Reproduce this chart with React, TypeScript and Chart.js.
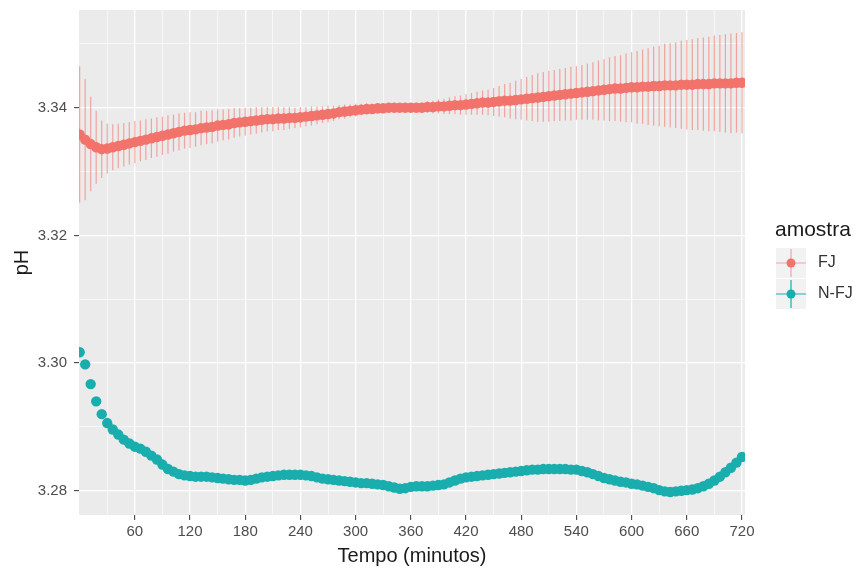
import React, { useEffect, useRef } from "react";
import { Chart, registerables } from "chart.js";

Chart.register(...registerables);

const TIME = [
  0, 6, 12, 18, 24, 30, 36, 42, 48, 54,
  60, 66, 72, 78, 84, 90, 96, 102, 108, 114,
  120, 126, 132, 138, 144, 150, 156, 162, 168, 174,
  180, 186, 192, 198, 204, 210, 216, 222, 228, 234,
  240, 246, 252, 258, 264, 270, 276, 282, 288, 294,
  300, 306, 312, 318, 324, 330, 336, 342, 348, 354,
  360, 366, 372, 378, 384, 390, 396, 402, 408, 414,
  420, 426, 432, 438, 444, 450, 456, 462, 468, 474,
  480, 486, 492, 498, 504, 510, 516, 522, 528, 534,
  540, 546, 552, 558, 564, 570, 576, 582, 588, 594,
  600, 606, 612, 618, 624, 630, 636, 642, 648, 654,
  660, 666, 672, 678, 684, 690, 696, 702, 708, 714,
  720,
];

const FJ_MEAN = [
  3.3358, 3.3350, 3.3343, 3.3338, 3.3335, 3.3336, 3.3338, 3.3340, 3.3342, 3.3344,
  3.3346, 3.3348, 3.3350, 3.3352, 3.3354, 3.3356, 3.3358, 3.3360, 3.3362, 3.3364,
  3.3365, 3.3366, 3.3368, 3.3369, 3.3370, 3.3372, 3.3373, 3.3374, 3.3376, 3.3377,
  3.3378, 3.3379, 3.3380, 3.3381, 3.3382, 3.3382, 3.3383, 3.3383, 3.3384, 3.3384,
  3.3385, 3.3386, 3.3387, 3.3388, 3.3389, 3.3390, 3.3391, 3.3393, 3.3394, 3.3395,
  3.3396, 3.3397, 3.3398, 3.3398, 3.3399, 3.3399, 3.3400, 3.3400, 3.3400, 3.3400,
  3.3400, 3.3400, 3.3400, 3.3401, 3.3401, 3.3402, 3.3402, 3.3403, 3.3404, 3.3404,
  3.3405, 3.3406, 3.3407, 3.3408, 3.3408, 3.3409, 3.3410, 3.3411, 3.3411, 3.3412,
  3.3413, 3.3414, 3.3415, 3.3416, 3.3417, 3.3418, 3.3419, 3.3420, 3.3421, 3.3422,
  3.3423, 3.3424, 3.3425, 3.3426, 3.3427, 3.3428, 3.3429, 3.3430, 3.3430, 3.3431,
  3.3432, 3.3432, 3.3433, 3.3433, 3.3434, 3.3434, 3.3435, 3.3435, 3.3435, 3.3436,
  3.3436, 3.3436, 3.3437, 3.3437, 3.3437, 3.3438, 3.3438, 3.3438, 3.3438, 3.3439,
  3.3439,
];

const FJ_ERR = [
  0.0107, 0.0095, 0.0074, 0.0057, 0.0045, 0.0039, 0.0036, 0.0035, 0.0034, 0.0033,
  0.0033, 0.0032, 0.0032, 0.0031, 0.0031, 0.0030, 0.0030, 0.0029, 0.0029, 0.0028,
  0.0028, 0.0027, 0.0027, 0.0026, 0.0026, 0.0025, 0.0024, 0.0024, 0.0023, 0.0022,
  0.0022, 0.0021, 0.0021, 0.0020, 0.0019, 0.0019, 0.0018, 0.0018, 0.0017, 0.0016,
  0.0016, 0.0015, 0.0015, 0.0014, 0.0013, 0.0013, 0.0012, 0.0011, 0.0011, 0.0010,
  0.0010, 0.0009, 0.0009, 0.0008, 0.0008, 0.0007, 0.0007, 0.0007, 0.0007, 0.0007,
  0.0007, 0.0008, 0.0008, 0.0009, 0.0010, 0.0011, 0.0012, 0.0013, 0.0014, 0.0015,
  0.0016, 0.0017, 0.0018, 0.0019, 0.0020, 0.0022, 0.0024, 0.0026, 0.0028, 0.0030,
  0.0032, 0.0034, 0.0036, 0.0038, 0.0039, 0.0040, 0.0040, 0.0041, 0.0041, 0.0042,
  0.0042, 0.0043, 0.0044, 0.0045, 0.0047, 0.0048, 0.0050, 0.0051, 0.0052, 0.0054,
  0.0055, 0.0057, 0.0058, 0.0060, 0.0062, 0.0063, 0.0065, 0.0066, 0.0067, 0.0069,
  0.0070, 0.0071, 0.0072, 0.0073, 0.0074, 0.0075, 0.0076, 0.0077, 0.0078, 0.0078,
  0.0079,
];

const NFJ_MEAN = [
  3.3017, 3.2998, 3.2967, 3.2940, 3.2920, 3.2906, 3.2896, 3.2888, 3.2880, 3.2874,
  3.2869, 3.2866, 3.2861, 3.2855, 3.2849, 3.2841, 3.2834, 3.2830, 3.2826, 3.2824,
  3.2823, 3.2822, 3.2822, 3.2822, 3.2821, 3.2820, 3.2819, 3.2818, 3.2817, 3.2817,
  3.2816, 3.2817, 3.2819, 3.2821, 3.2822, 3.2823, 3.2824, 3.2825, 3.2825, 3.2825,
  3.2825, 3.2824, 3.2823, 3.2821, 3.2819, 3.2818, 3.2817, 3.2816, 3.2815, 3.2814,
  3.2813, 3.2812, 3.2812, 3.2811, 3.2810, 3.2809, 3.2807, 3.2805, 3.2803, 3.2804,
  3.2806, 3.2807, 3.2807, 3.2807, 3.2808, 3.2809, 3.2810, 3.2813, 3.2816, 3.2819,
  3.2821, 3.2822, 3.2823, 3.2824, 3.2825, 3.2826, 3.2827, 3.2828, 3.2829, 3.2830,
  3.2831, 3.2832, 3.2833, 3.2833, 3.2834, 3.2834, 3.2834, 3.2834, 3.2834, 3.2833,
  3.2833, 3.2831, 3.2829, 3.2826, 3.2823, 3.2820, 3.2818, 3.2816, 3.2814, 3.2813,
  3.2811, 3.2810, 3.2808, 3.2806, 3.2804, 3.2801, 3.2799, 3.2798, 3.2799, 3.2800,
  3.2801, 3.2802, 3.2804, 3.2807, 3.2811, 3.2816, 3.2822, 3.2829, 3.2836, 3.2844,
  3.2853,
];

const SERIES_NAMES = ["FJ", "N-FJ"];
const X_GRID = [30, 60, 90, 120, 150, 180, 210, 240, 270, 300, 330, 360, 390, 420, 450, 480, 510, 540, 570, 600, 630, 660, 690, 720];
const X_LABELED = [60, 120, 180, 240, 300, 360, 420, 480, 540, 600, 660, 720];
const Y_GRID = [3.28, 3.29, 3.30, 3.31, 3.32, 3.33, 3.34, 3.35];
const Y_LABELED = [3.28, 3.30, 3.32, 3.34];

const RED = "#F1736B";
const RED_BAR = "rgba(241,115,107,0.6)";
const TEAL = "#19ADAE";
const FONT = "'Liberation Sans', Arial, sans-serif";

const isXMajor = (v: number) => X_LABELED.some((m) => Math.abs(m - v) < 1e-6);
const isYMajor = (v: number) => Y_LABELED.some((m) => Math.abs(m - v) < 1e-6);

export default function App() {
  const ref = useRef<HTMLCanvasElement | null>(null);

  useEffect(() => {
    if (!ref.current) return;

    const panelBg = {
      id: "panelBg",
      beforeDraw(chart: any) {
        const { ctx, chartArea: a } = chart;
        ctx.save();
        ctx.fillStyle = "#EBEBEB";
        ctx.fillRect(a.left, a.top, a.right - a.left, a.bottom - a.top);
        ctx.restore();
      },
    };

    const errorBars = {
      id: "errorBars",
      beforeDatasetsDraw(chart: any) {
        const { ctx, chartArea: a, scales } = chart;
        const xs = scales.x;
        const ys = scales.y;
        ctx.save();
        ctx.beginPath();
        ctx.rect(a.left, a.top, a.right - a.left, a.bottom - a.top);
        ctx.clip();
        ctx.strokeStyle = RED_BAR;
        ctx.lineWidth = 1.2;
        for (let i = 0; i < TIME.length; i++) {
          const x = xs.getPixelForValue(TIME[i]);
          const y1 = ys.getPixelForValue(FJ_MEAN[i] + FJ_ERR[i]);
          const y2 = ys.getPixelForValue(FJ_MEAN[i] - FJ_ERR[i]);
          ctx.beginPath();
          ctx.moveTo(x, y1);
          ctx.lineTo(x, y2);
          ctx.stroke();
        }
        ctx.restore();
      },
    };

    const legend = {
      id: "customLegend",
      afterDraw(chart: any) {
        const { ctx } = chart;
        ctx.save();
        ctx.fillStyle = "#1A1A1A";
        ctx.font = `21px ${FONT}`;
        ctx.textBaseline = "alphabetic";
        ctx.textAlign = "left";
        ctx.fillText("amostra", 775, 236);
        const keys = [
          { name: SERIES_NAMES[0], color: RED, line: RED_BAR, cy: 263 },
          { name: SERIES_NAMES[1], color: TEAL, line: TEAL, cy: 294 },
        ];
        keys.forEach((k) => {
          const cx = 791;
          ctx.fillStyle = "#F2F2F2";
          ctx.fillRect(cx - 15, k.cy - 15, 30, 30);
          ctx.strokeStyle = k.line;
          ctx.lineWidth = 1.2;
          ctx.beginPath();
          ctx.moveTo(cx - 15, k.cy);
          ctx.lineTo(cx + 15, k.cy);
          ctx.moveTo(cx, k.cy - 14);
          ctx.lineTo(cx, k.cy + 14);
          ctx.stroke();
          ctx.fillStyle = k.color;
          ctx.beginPath();
          ctx.arc(cx, k.cy, 4.5, 0, Math.PI * 2);
          ctx.fill();
          ctx.fillStyle = "#333333";
          ctx.font = `16px ${FONT}`;
          ctx.textBaseline = "middle";
          ctx.fillText(k.name, 818, k.cy);
        });
        ctx.restore();
      },
    };

    const chart = new Chart(ref.current, {
      type: "scatter",
      data: {
        datasets: [
          {
            label: SERIES_NAMES[0],
            data: TIME.map((t, i) => ({ x: t, y: FJ_MEAN[i] })),
            backgroundColor: RED,
            borderWidth: 0,
            pointRadius: 5.2,
          },
          {
            label: SERIES_NAMES[1],
            data: TIME.map((t, i) => ({ x: t, y: NFJ_MEAN[i] })),
            backgroundColor: TEAL,
            borderWidth: 0,
            pointRadius: 5.2,
          },
        ],
      },
      options: {
        animation: false,
        responsive: false,
        devicePixelRatio: 1,
        layout: { padding: { left: 0, right: 113, top: 10, bottom: 0 } },
        plugins: { legend: { display: false }, tooltip: { enabled: false } },
        scales: {
          x: {
            type: "linear",
            min: -0.7,
            max: 723.3,
            afterFit(scale: any) {
              scale.height = 54;
              scale.paddingLeft = 0;
              scale.paddingRight = 0;
            },
            afterBuildTicks(scale: any) {
              scale.ticks = X_GRID.map((v) => ({ value: v }));
            },
            border: { display: false },
            grid: {
              color: "#FFFFFF",
              lineWidth: (c: any) => (c.tick && isXMajor(c.tick.value) ? 1.3 : 0.6),
              tickColor: (c: any) => (c.tick && isXMajor(c.tick.value) ? "#333333" : "rgba(0,0,0,0)"),
              tickLength: 5,
              tickWidth: 1,
            },
            ticks: {
              autoSkip: false,
              maxRotation: 0,
              padding: 3,
              color: "#4D4D4D",
              font: { family: FONT, size: 15 },
              callback: (v: any) => (isXMajor(Number(v)) ? String(v) : ""),
            },
            title: {
              display: true,
              text: "Tempo (minutos)",
              color: "#1A1A1A",
              font: { family: FONT, size: 20 },
              padding: { top: 0, bottom: 1 },
            },
          },
          y: {
            type: "linear",
            min: 3.2762,
            max: 3.3553,
            afterFit(scale: any) {
              scale.width = 79;
              scale.paddingTop = 0;
              scale.paddingBottom = 0;
            },
            afterBuildTicks(scale: any) {
              scale.ticks = Y_GRID.map((v) => ({ value: v }));
            },
            border: { display: false },
            grid: {
              color: "#FFFFFF",
              lineWidth: (c: any) => (c.tick && isYMajor(c.tick.value) ? 1.3 : 0.6),
              tickColor: (c: any) => (c.tick && isYMajor(c.tick.value) ? "#333333" : "rgba(0,0,0,0)"),
              tickLength: 5,
              tickWidth: 1,
            },
            ticks: {
              autoSkip: false,
              padding: 7,
              color: "#4D4D4D",
              font: { family: FONT, size: 15 },
              callback: (v: any) => (isYMajor(Number(v)) ? Number(v).toFixed(2) : ""),
            },
            title: {
              display: true,
              text: "pH",
              color: "#1A1A1A",
              font: { family: FONT, size: 20 },
              padding: { top: 10, bottom: 0 },
            },
          },
        },
      },
      plugins: [panelBg, errorBars, legend],
    } as any);

    return () => chart.destroy();
  }, []);

  return (
    <div style={{ position: "absolute", left: 0, top: 0, width: 858, height: 569, background: "#FFFFFF" }}>
      <canvas ref={ref} width={858} height={569} style={{ width: 858, height: 569, display: "block" }} />
    </div>
  );
}
